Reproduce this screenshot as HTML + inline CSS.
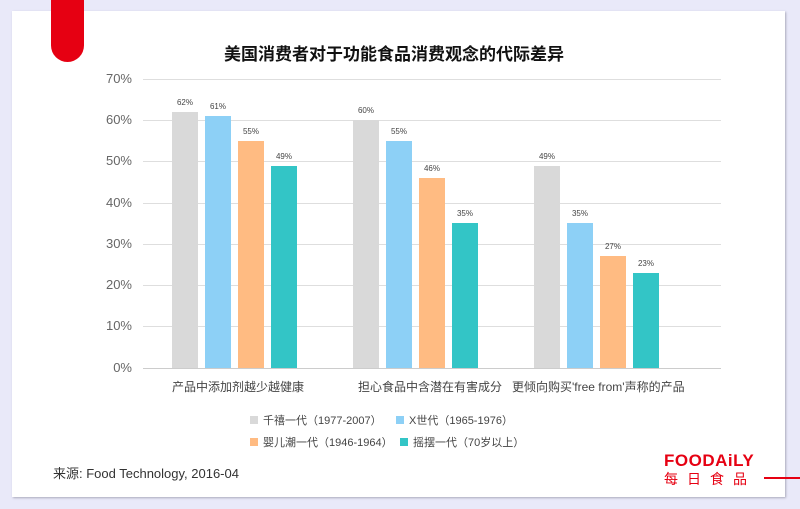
<!DOCTYPE html><html><head><meta charset="utf-8"><style>
body{margin:0;width:800px;height:509px;background:#e9e9f9;position:relative;overflow:hidden;font-family:"Liberation Sans","Noto Sans CJK SC",sans-serif}
.card{position:absolute;left:12px;top:11px;width:773px;height:486px;background:#fff;box-shadow:1px 1px 2px #aab}
.tab{position:absolute;left:51px;top:0;width:33px;height:62px;background:#e60012;border-radius:0 0 17px 17px}
.t{position:absolute;white-space:nowrap}
.g{position:absolute;left:143px;width:578px;height:1px;background:#dedede}
.yl{position:absolute;left:100px;width:32px;text-align:right;font-size:13px;color:#666}
.b{position:absolute;width:26px}
.v{position:absolute;width:40px;text-align:center;font-size:8px;color:#444}
.c{position:absolute;font-size:12px;color:#444;white-space:nowrap}
.l{font-size:11px}
.sq{display:inline-block;width:8px;height:8px;margin-right:5px}
</style></head><body>
<div class="card"></div><div class="tab"></div>
<div class="t" style="left:0;width:788px;top:40px;text-align:center;font-size:17px;font-weight:bold;color:#111">美国消费者对于功能食品消费观念的代际差异</div>
<div class="g" style="top:79px"></div><div class="g" style="top:120px"></div><div class="g" style="top:161px"></div><div class="g" style="top:203px"></div><div class="g" style="top:244px"></div><div class="g" style="top:285px"></div><div class="g" style="top:326px"></div><div class="g" style="top:368px;background:#ccc"></div>
<div class="yl" style="top:71px">70%</div><div class="yl" style="top:112px">60%</div><div class="yl" style="top:153px">50%</div><div class="yl" style="top:195px">40%</div><div class="yl" style="top:236px">30%</div><div class="yl" style="top:277px">20%</div><div class="yl" style="top:318px">10%</div><div class="yl" style="top:360px">0%</div>
<div id="bars"></div>
<script>
var d=[[62,61,55,49],[60,55,46,35],[49,35,27,23]],x0=[172,353,534],col=["#d9d9d9","#8dd0f6","#ffbb82","#33c5c6"],h="";
for(var i=0;i<3;i++)for(var j=0;j<4;j++){var x=x0[i]+j*33,hh=d[i][j]*4.13,t=368-hh;
h+='<div class="b" style="left:'+x+'px;top:'+t+'px;height:'+hh+'px;background:'+col[j]+'"></div><div class="v" style="left:'+(x-7)+'px;top:'+(t-14)+'px">'+d[i][j]+'%</div>';}
document.getElementById('bars').innerHTML=h;
</script>
<div class="c" style="left:172px;top:378px">产品中添加剂越少越健康</div>
<div class="c" style="left:358px;top:378px">担心食品中含潜在有害成分</div>
<div class="c" style="left:512px;top:378px">更倾向购买'free from'声称的产品</div>
<div class="c l" style="left:250px;top:412px"><span class="sq" style="background:#d9d9d9"></span>千禧一代（1977-2007）</div>
<div class="c l" style="left:396px;top:412px"><span class="sq" style="background:#8dd0f6"></span>X世代（1965-1976）</div>
<div class="c l" style="left:250px;top:434px"><span class="sq" style="background:#ffbb82"></span>婴儿潮一代（1946-1964）</div>
<div class="c l" style="left:396px;top:434px;background:#fff;padding-left:4px"><span class="sq" style="background:#33c5c6"></span>摇摆一代（70岁以上）</div>
<div class="t" style="left:53px;top:463px;font-size:13px;color:#333">来源: Food Technology, 2016-04</div>
<div class="t" style="left:664px;top:451px;font-size:17px;font-weight:bold;color:#e60012;letter-spacing:0.5px">FOODAiLY</div>
<div class="t" style="left:664px;top:469px;font-size:14px;color:#e60012;letter-spacing:9px">每日食品</div>
<div style="position:absolute;left:764px;top:477px;width:36px;height:2px;background:#e60012"></div>
</body></html>
